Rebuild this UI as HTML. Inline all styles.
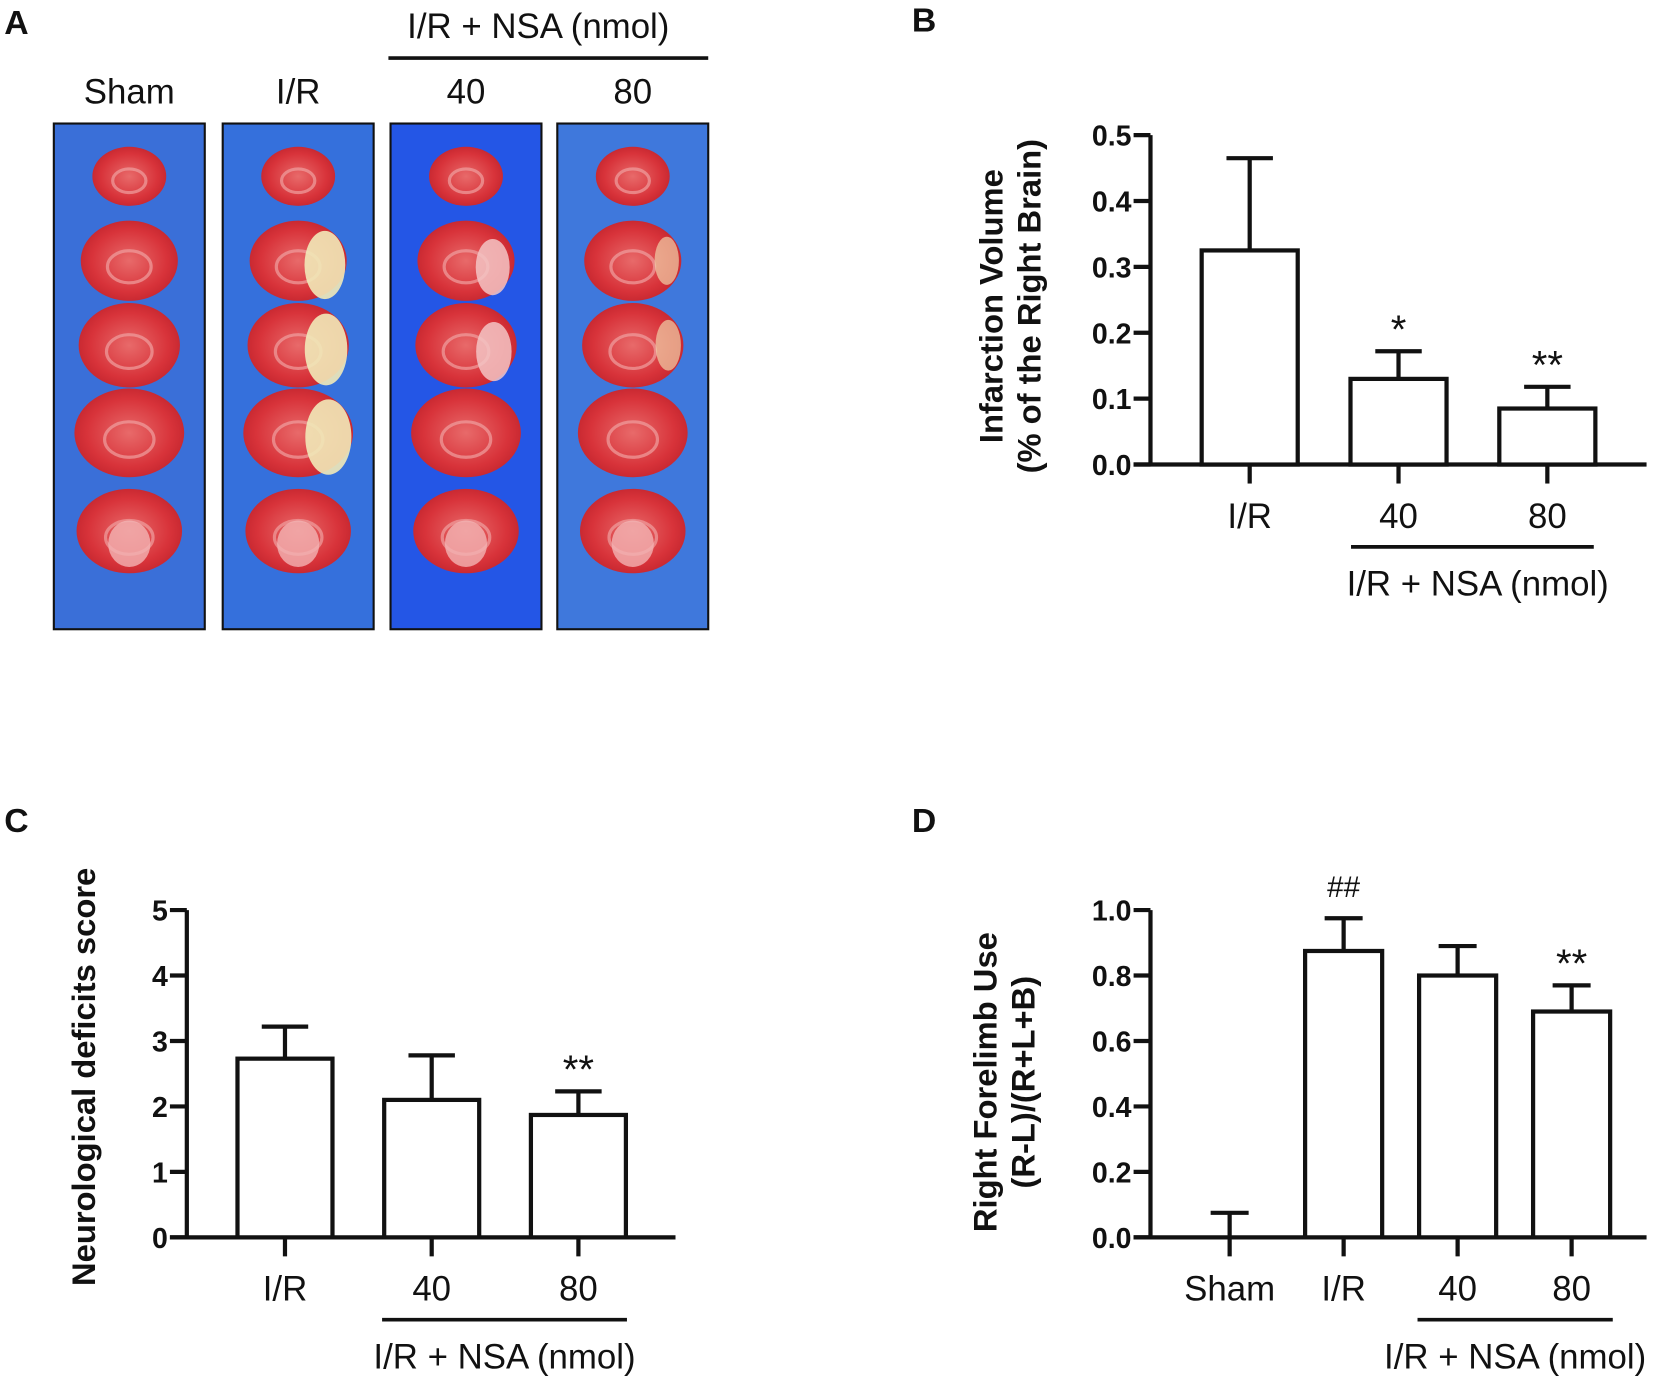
<!DOCTYPE html>
<html><head><meta charset="utf-8"><style>
html,body{margin:0;padding:0;background:#fff;}
svg{display:block;}
text{font-family:"Liberation Sans",Arial,sans-serif;fill:#111;}
.tk{font-weight:bold;font-size:27px;}
.cat{font-size:33px;}
.pl{font-weight:bold;font-size:32px;}
.yt{font-weight:bold;font-size:31px;}
</style></head><body>
<svg id="fig" xmlns="http://www.w3.org/2000/svg" width="1655" height="1382" viewBox="0 0 1568 1309" preserveAspectRatio="none">
<g id="panelA">
<text x="4" y="32" class="pl">A</text>
<text x="510" y="36" class="cat" text-anchor="middle">I/R + NSA (nmol)</text>
<line x1="368" y1="55" x2="671" y2="55" stroke="#111" stroke-width="3.5"/>
</g>
<g id="panelB"></g>
<g id="panelC"></g>
<g id="panelD"></g>
</svg>
<script>
const NS="http://www.w3.org/2000/svg";
// Panel B data
const bCats=["I/R","40","80"];
const bVals=[0.325,0.13,0.085];
const bErrs=[0.465,0.172,0.118];
const bTicks=["0.0","0.1","0.2","0.3","0.4","0.5"];
const bMarks=["","*","**"];
// Panel C data
const cCats=["I/R","40","80"];
const cVals=[2.73,2.1,1.87];
const cErrs=[3.22,2.78,2.23];
const cTicks=["0","1","2","3","4","5"];
const cMarks=["","","**"];
// Panel D data
const dCats=["Sham","I/R","40","80"];
const dVals=[0,0.875,0.80,0.69];
const dErrs=[0.075,0.975,0.89,0.77];
const dTicks=["0.0","0.2","0.4","0.6","0.8","1.0"];
const dMarks=["","##","","**"];
// Panel A photo columns
const aCols=["Sham","I/R","40","80"];

function mk(tag,attrs,parent,txt){const e=document.createElementNS(NS,tag);for(const k in attrs)e.setAttribute(k,attrs[k]);if(txt!==undefined)e.textContent=txt;parent.appendChild(e);return e;}

function chart(g,cfg,cats,vals,errs,ticks,marks){
  const y=v=>cfg.y0-(v/cfg.max)*(cfg.y0-cfg.y1);
  const xc=i=>cfg.c0+i*cfg.step;
  let e=mk('line',{x1:cfg.ax,y1:cfg.y1,x2:cfg.ax,y2:cfg.y0,stroke:'#111','stroke-width':4},g);
  
  
  e=mk('line',{x1:cfg.ax-16,y1:cfg.y0,x2:cfg.xEnd,y2:cfg.y0,stroke:'#111','stroke-width':4},g);
  
  
  ticks.forEach((t,i)=>{const v=cfg.max*i/(ticks.length-1);const yy=y(v);
    const l=mk('line',{x1:cfg.ax-16,y1:yy,x2:cfg.ax,y2:yy,stroke:'#111','stroke-width':4},g);
    
    
    const tx=mk('text',{x:cfg.ax-18,y:yy+10,class:'tk','text-anchor':'end'},g,t);
    
    });
  cats.forEach((c,i)=>{const cx=xc(i);
    const ey=y(errs[i]);
    const el=mk('line',{x1:cx,y1:ey,x2:cx,y2:y(vals[i]),stroke:'#111','stroke-width':4},g);
    
    
    const cap=mk('line',{x1:cx-cfg.cap,y1:ey,x2:cx+cfg.cap,y2:ey,stroke:'#111','stroke-width':4},g);
    
    
    if(vals[i]>0){const r=mk('rect',{x:cx-cfg.bw/2,y:y(vals[i]),width:cfg.bw,height:cfg.y0-y(vals[i]),fill:'#fff',stroke:'#111','stroke-width':4},g);
      
      }
    const tk=mk('line',{x1:cx,y1:cfg.y0,x2:cx,y2:cfg.y0+18,stroke:'#111','stroke-width':4},g);
    
    
    const lb=mk('text',{x:cx,y:cfg.y0+60,class:'cat','text-anchor':'middle'},g,c);
    
    
    if(marks[i]){const m=mk('text',{x:cx,y:ey-(marks[i]=='##'?20:8),'text-anchor':'middle','font-size':marks[i]=='##'?28:38},g,marks[i]);
      
      }
  });
  const gl=mk('line',{x1:cfg.gx1,y1:cfg.y0+78,x2:cfg.gx2,y2:cfg.y0+78,stroke:'#111','stroke-width':3.5},g);
  
  
  const gt=mk('text',{x:(cfg.gx1+cfg.gx2)/2+cfg.goff,y:cfg.y0+124,class:'cat','text-anchor':'middle'},g,'I/R + NSA (nmol)');
  
  
  const pl=mk('text',{x:cfg.px,y:cfg.py,class:'pl'},g,cfg.letter);
  
  
  cfg.titles.forEach((t,i)=>{const tx=cfg.tx+i*36;
    const tt=mk('text',{x:0,y:0,class:'yt','text-anchor':'middle',transform:`translate(${tx},${cfg.ty}) rotate(-90)`},g,t);
    
    });
}
chart(document.getElementById('panelB'),{ax:1090,y0:440,y1:128,max:0.5,xEnd:1560,c0:1184,step:141,bw:91,cap:22,gx1:1280,gx2:1510,goff:5,px:864,py:30,letter:'B',titles:['Infarction Volume','(% of the Right Brain)'],tx:950,ty:290},bCats,bVals,bErrs,bTicks,bMarks);
chart(document.getElementById('panelC'),{ax:177,y0:1172,y1:862,max:5,xEnd:640,c0:270,step:139,bw:90,cap:22,gx1:362,gx2:594,goff:0,px:4,py:788,letter:'C',titles:['Neurological deficits score'],tx:90,ty:1020},cCats,cVals,cErrs,cTicks,cMarks);
chart(document.getElementById('panelD'),{ax:1090,y0:1172,y1:862,max:1.0,xEnd:1560,c0:1165,step:108,bw:73,cap:18,gx1:1343,gx2:1528,goff:0,px:864,py:788,letter:'D',titles:['Right Forelimb Use','(R-L)/(R+L+B)'],tx:944,ty:1025},dCats,dVals,dErrs,dTicks,dMarks);

// Panel A photos
const gA=document.getElementById('panelA');
const boxX=[51,211,370,528];
const boxFill=["#3a6fd8","#3570dc","#2456e6","#3f78dc"];
const rowsY=[167,247,327,410,503];
const rowsW=[70,92,96,104,100];
const rowsH=[28,38,40,42,40];
const defs=mk('defs',{},document.getElementById('fig'));
const gr=mk('radialGradient',{id:'br',cx:'50%',cy:'50%',r:'55%'},defs);
mk('stop',{offset:'0%','stop-color':'#e86a6a'},gr);
mk('stop',{offset:'70%','stop-color':'#d8333a'},gr);
mk('stop',{offset:'100%','stop-color':'#c3252e'},gr);
aCols.forEach((c,i)=>{const x=boxX[i];const cx=x+71.5;
  const lb=mk('text',{x:cx,y:98,class:'cat','text-anchor':'middle'},gA,c);
  
  
  const b=mk('rect',{x:x,y:117,width:143,height:479,fill:boxFill[i],stroke:'#111','stroke-width':2},gA);
  
  
  rowsY.forEach((yy,r)=>{const w=rowsW[r]/2,h=rowsH[r];
    const s=mk('ellipse',{cx:cx,cy:yy,rx:w,ry:h,fill:'url(#br)'},gA);
    
    
    mk('ellipse',{cx:cx,cy:yy+h*0.15,rx:w*0.45,ry:h*0.4,fill:'none',stroke:'#f0a0a0','stroke-width':3,opacity:0.7},gA);
    if(i===1&&r>0&&r<4){mk('ellipse',{cx:cx+w*0.55,cy:yy+4,rx:w*0.42,ry:h*0.85,fill:'#f1e9b8',opacity:0.9},gA);}
    if(i===2&&r>0&&r<3){mk('ellipse',{cx:cx+w*0.55,cy:yy+6,rx:w*0.35,ry:h*0.7,fill:'#f3c4c4',opacity:0.85},gA);}
    if(i===3&&r>0&&r<3){mk('ellipse',{cx:cx+w*0.7,cy:yy,rx:w*0.25,ry:h*0.6,fill:'#f0d0a8',opacity:0.7},gA);}
    if(r===4){mk('ellipse',{cx:cx,cy:yy+h*0.3,rx:w*0.4,ry:h*0.55,fill:'#f2b3b3',opacity:0.8},gA);}
  });
});
</script>
</body></html>
